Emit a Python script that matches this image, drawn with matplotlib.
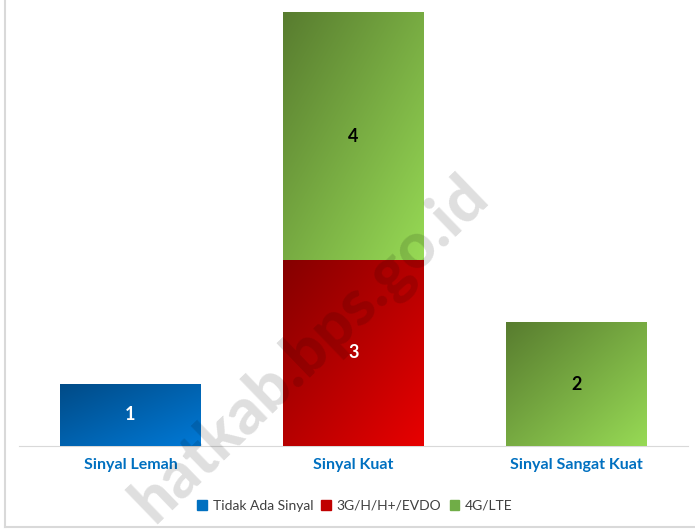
import numpy as np
import matplotlib
matplotlib.use("Agg")
import matplotlib.pyplot as plt
from matplotlib.colors import LinearSegmentedColormap
from matplotlib.lines import Line2D

# -------------------------------------------------------
# Data
# -------------------------------------------------------
categories = ["Sinyal Lemah", "Sinyal Kuat", "Sinyal Sangat Kuat"]
series_names = ["Tidak Ada Sinyal", "3G/H/H+/EVDO", "4G/LTE"]
tidak_ada = [1, 0, 0]
sinyal_3g = [0, 3, 0]
sinyal_4g = [0, 4, 2]

# gradient colours: (dark top-left, light bottom-right)
grad_colors = [("#004b87", "#0079d6"), ("#850000", "#e80000"), ("#587c2f", "#97da55")]
legend_colors = ["#0070c0", "#c00000", "#70ad47"]
label_colors = ["white", "white", "black"]

plt.rcParams["font.family"] = ["Lato", "DejaVu Sans"]

fig = plt.figure(figsize=(6.95, 5.29), dpi=100)
ax = fig.add_axes([19 / 695, 83 / 529, 669 / 695, 434 / 529])

x = np.arange(len(categories))
values = [tidak_ada, sinyal_3g, sinyal_4g]
bottom = np.zeros(len(categories))

# diagonal gradient field
gx, gy = np.meshgrid(np.linspace(0, 1, 200), np.linspace(0, 1, 200))
field = (gx + gy) / 2  # origin="upper": top-left -> 0, bottom-right -> 1

for i, vals in enumerate(values):
    vals = np.array(vals, dtype=float)
    bars = ax.bar(x, vals, 0.628, bottom=bottom, color=legend_colors[i],
                  label=series_names[i], zorder=2)
    cmap = LinearSegmentedColormap.from_list("g%d" % i, grad_colors[i])
    for b, v in zip(bars, vals):
        if v <= 0:
            continue
        x0, y0, w, h = b.get_x(), b.get_y(), b.get_width(), b.get_height()
        im = ax.imshow(field, cmap=cmap, extent=(x0, x0 + w, y0, y0 + h),
                       origin="upper", aspect="auto", zorder=2.5)
        im.set_clip_path(b)
        ax.text(x0 + w / 2, y0 + h / 2, "%d" % v, ha="center", va="center",
                fontsize=13, fontweight="bold", color=label_colors[i], zorder=4)
    bottom += vals

ax.set_xlim(-0.5, 2.5)
ax.set_ylim(0, 7)
ax.set_yticks([])
ax.set_xticks(x)
ax.set_xticklabels(categories, fontsize=11.5, fontweight="bold", color="#0070c0")
ax.tick_params(axis="x", length=0, pad=9)
for s in ["top", "left", "right"]:
    ax.spines[s].set_visible(False)
ax.spines["bottom"].set_color("#d9d9d9")
ax.spines["bottom"].set_zorder(1)

handles = [plt.Rectangle((0, 0), 1, 1, color=c) for c in legend_colors]
fig.legend(handles, series_names, loc="center", bbox_to_anchor=(355 / 695, 1 - 506 / 529),
           ncol=3, frameon=False, fontsize=10, handlelength=0.7, handleheight=0.7,
           handletextpad=0.4, columnspacing=0.6, labelcolor="#404040")

# outer frame lines (left and bottom)
fig.add_artist(Line2D([5 / 695, 5 / 695], [2 / 529, 1], color="#d9d9d9", lw=1.5))
fig.add_artist(Line2D([5 / 695, 1], [2 / 529, 2 / 529], color="#d9d9d9", lw=1.5))

# watermark
fig.text(310 / 695, 1 - 350 / 529, "hatkab.bps.go.id", rotation=44, ha="center",
         va="center", fontsize=46, fontweight="black", color="black", alpha=0.13,
         zorder=10)

fig.savefig("out.png", dpi=100)
